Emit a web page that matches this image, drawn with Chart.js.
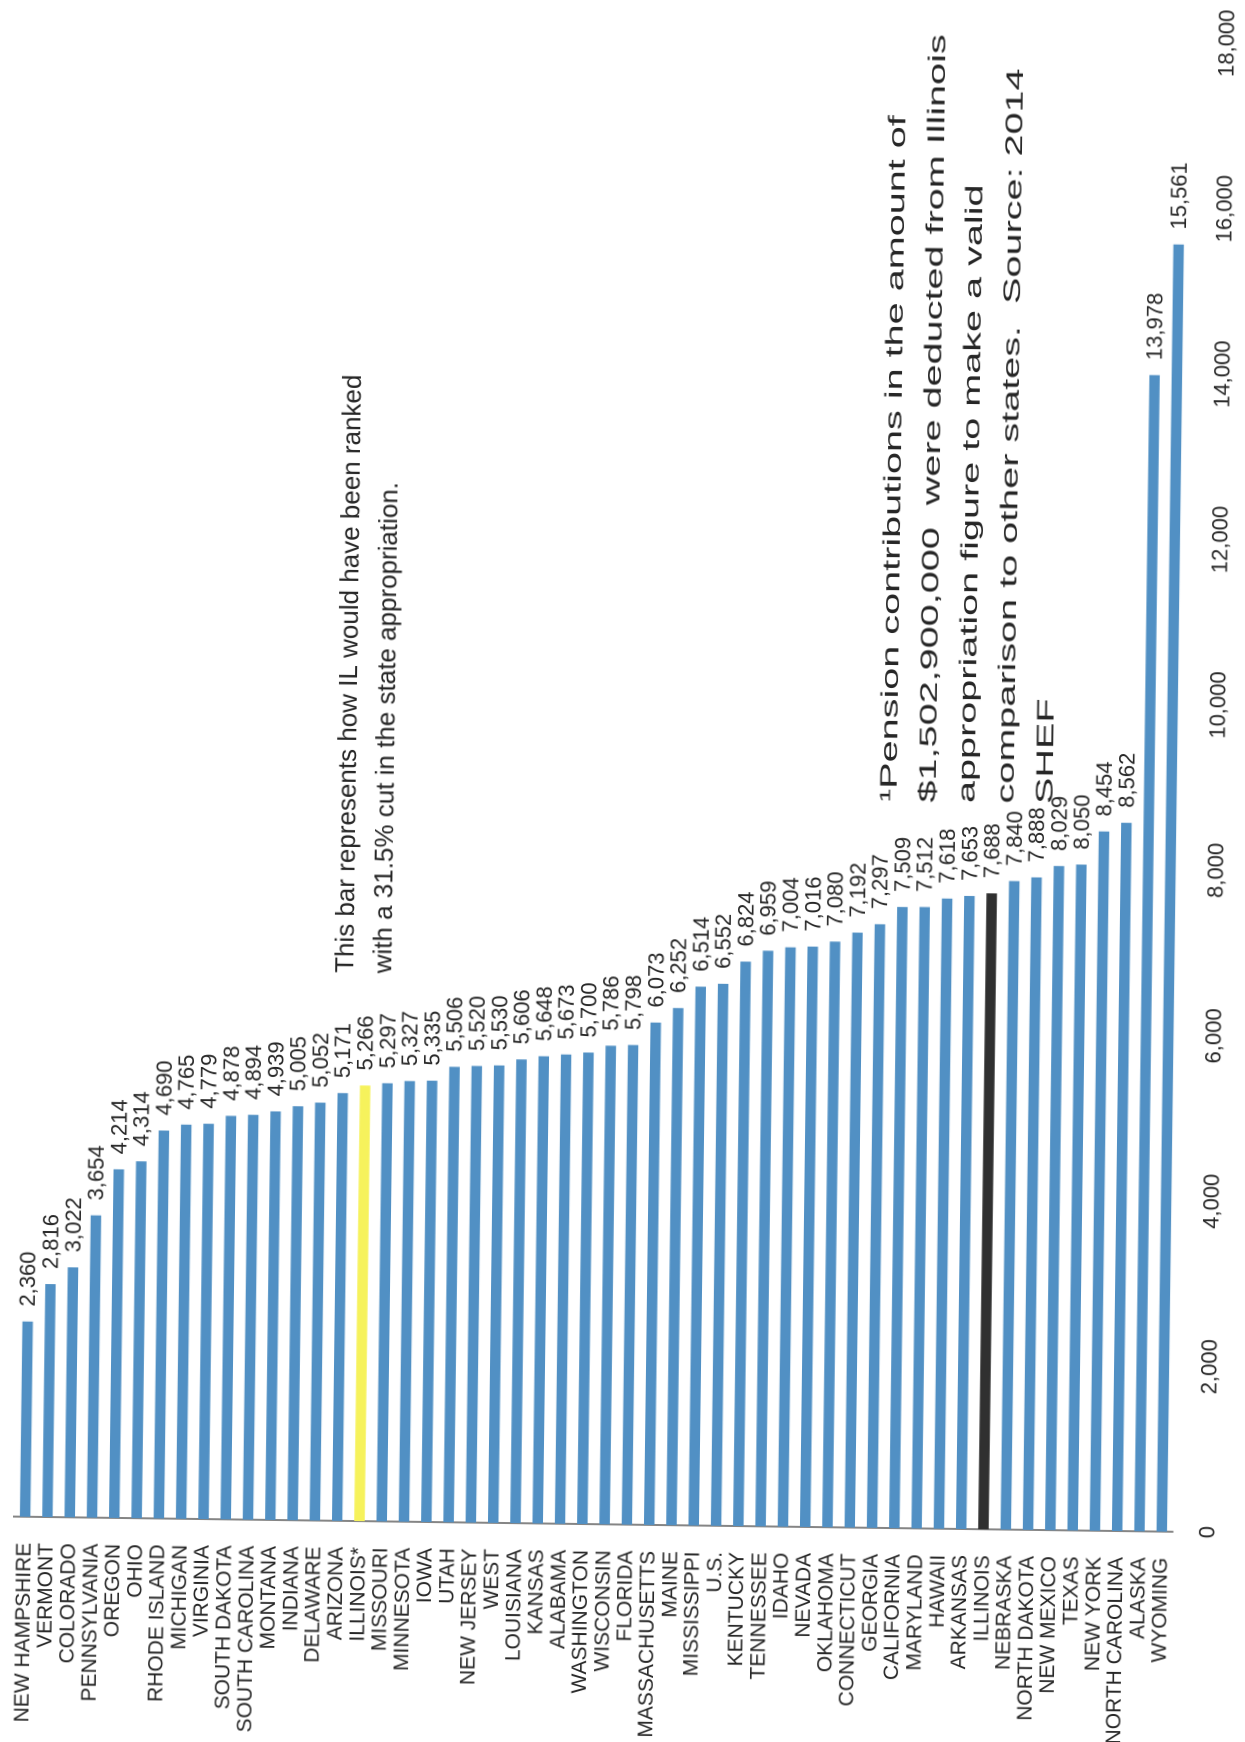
<!DOCTYPE html>
<html>
<head>
<meta charset="utf-8">
<title>State appropriation by state</title>
<script src="https://cdn.jsdelivr.net/npm/chart.js@4.4.1/dist/chart.umd.min.js"></script>
<style>
  html, body { margin: 0; padding: 0; background: #fff; overflow: hidden; }
  body { width: 1245px; height: 1742px; position: relative; }
  /* the page was scanned sideways, so the whole chart is drawn flat and turned */
  #page {
    position: absolute;
    left: -248.5px;
    top: 248.5px;
    width: 1742px;
    height: 1245px;
    transform: rotate(-89.25deg);
    transform-origin: 50% 50%;
  }
</style>
</head>
<body>
<div id="page"><canvas id="stateChart" width="1742" height="1245"></canvas></div>
<script>
const states = [
    'NEW HAMPSHIRE', 'VERMONT', 'COLORADO', 'PENNSYLVANIA', 'OREGON', 'OHIO',
    'RHODE ISLAND', 'MICHIGAN', 'VIRGINIA', 'SOUTH DAKOTA', 'SOUTH CAROLINA',
    'MONTANA', 'INDIANA', 'DELAWARE', 'ARIZONA', 'ILLINOIS*', 'MISSOURI',
    'MINNESOTA', 'IOWA', 'UTAH', 'NEW JERSEY', 'WEST', 'LOUISIANA', 'KANSAS',
    'ALABAMA', 'WASHINGTON', 'WISCONSIN', 'FLORIDA', 'MASSACHUSETTS', 'MAINE',
    'MISSISSIPPI', 'U.S.', 'KENTUCKY', 'TENNESSEE', 'IDAHO', 'NEVADA',
    'OKLAHOMA', 'CONNECTICUT', 'GEORGIA', 'CALIFORNIA', 'MARYLAND', 'HAWAII',
    'ARKANSAS', 'ILLINOIS', 'NEBRASKA', 'NORTH DAKOTA', 'NEW MEXICO', 'TEXAS',
    'NEW YORK', 'NORTH CAROLINA', 'ALASKA', 'WYOMING'
];

const amounts = [
    2360, 2816, 3022, 3654, 4214, 4314,
    4690, 4765, 4779, 4878, 4894,
    4939, 5005, 5052, 5171, 5266, 5297,
    5327, 5335, 5506, 5520, 5530, 5606, 5648,
    5673, 5700, 5786, 5798, 6073, 6252,
    6514, 6552, 6824, 6959, 7004, 7016,
    7080, 7192, 7297, 7509, 7512, 7618,
    7653, 7688, 7840, 7888, 8029, 8050,
    8454, 8562, 13978, 15561
];

const valueTicks = [0, 2000, 4000, 6000, 8000, 10000, 12000, 14000, 16000, 18000];

const cutNote = [
    'This bar represents how IL would have been ranked',
    'with a 31.5% cut in the state appropriation.'
];

const pensionNote = [
    '\u00b9Pension contributions in the amount of',
    '$1,502,900,000  were deducted from Illinois',
    'appropriation figure to make a valid',
    'comparison to other states.  Source: 2014',
    'SHEF'
];

const fontFamily = '"Liberation Sans", Arial, sans-serif';
const textColor = '#262626';

function barColor(name) {
    if (name == 'ILLINOIS*') {
        return '#f6f25c';
    } else if (name == 'ILLINOIS') {
        return '#303030';
    }
    return '#5190c4';
}

// numbers at the end of each bar
const barLabels = {
    id: 'barLabels',
    afterDatasetsDraw(chart) {
        const ctx = chart.ctx;
        const meta = chart.getDatasetMeta(0);
        ctx.save();
        ctx.font = '22px ' + fontFamily;
        ctx.fillStyle = textColor;
        ctx.textAlign = 'left';
        ctx.textBaseline = 'middle';
        for (var i = 0; i < meta.data.length; i++) {
            const bar = meta.data[i];
            ctx.fillText(amounts[i].toLocaleString('en-US'), bar.x + 15, bar.y + 1);
        }
        ctx.restore();
    }
};

// the two text boxes pasted on the chart
const notes = {
    id: 'notes',
    afterDraw(chart) {
        const ctx = chart.ctx;
        ctx.save();
        ctx.fillStyle = '#262626';
        ctx.textAlign = 'left';
        ctx.textBaseline = 'alphabetic';

        ctx.font = '26px ' + fontFamily;
        for (var i = 0; i < cutNote.length; i++) {
            ctx.fillText(cutNote[i], 766, 354 + i * 38);
        }

        // this box was stretched along the reading direction in the scan
        ctx.font = '24px ' + fontFamily;
        for (var j = 0; j < pensionNote.length; j++) {
            ctx.save();
            ctx.translate(944, 895 + j * 39);
            ctx.scale(1.65, 1);
            ctx.fillText(pensionNote[j], 0, 0);
            ctx.restore();
        }
        ctx.restore();
    }
};

Chart.defaults.font.family = fontFamily;
Chart.defaults.color = textColor;

const data = {
    labels: states,
    datasets: [{
        data: amounts,
        backgroundColor: states.map(barColor),
        borderWidth: 0,
        barPercentage: 0.47,
        categoryPercentage: 1.0
    }]
};

const config = {
    type: 'bar',
    data: data,
    options: {
        indexAxis: 'y',
        responsive: false,
        animation: false,
        devicePixelRatio: 2,
        layout: {
            padding: { top: 22, right: 35, left: 0, bottom: 0 }
        },
        plugins: {
            legend: { display: false },
            tooltip: { enabled: false }
        },
        scales: {
            x: {
                min: valueTicks[0],
                max: valueTicks[valueTicks.length - 1],
                grid: { display: false, drawTicks: false },
                border: { display: false },
                afterBuildTicks: function (scale) {
                    scale.ticks = valueTicks.map(v => ({ value: v }));
                },
                ticks: {
                    padding: 22,
                    color: textColor,
                    font: { size: 22 },
                    callback: function (value) {
                        return value.toLocaleString('en-US');
                    }
                },
                afterFit: function (scale) {
                    scale.height = 64;
                    scale.paddingLeft = 0;
                    scale.paddingRight = 0;
                }
            },
            y: {
                grid: { display: false, drawTicks: false },
                border: { display: true, color: '#858585', width: 2 },
                ticks: {
                    autoSkip: false,
                    padding: 26,
                    color: textColor,
                    font: { size: 21 }
                },
                afterFit: function (scale) {
                    scale.width = 218;
                    scale.paddingTop = 0;
                    scale.paddingBottom = 0;
                }
            }
        }
    },
    plugins: [barLabels, notes]
};

const stateChart = new Chart(document.getElementById('stateChart'), config);
</script>
</body>
</html>
